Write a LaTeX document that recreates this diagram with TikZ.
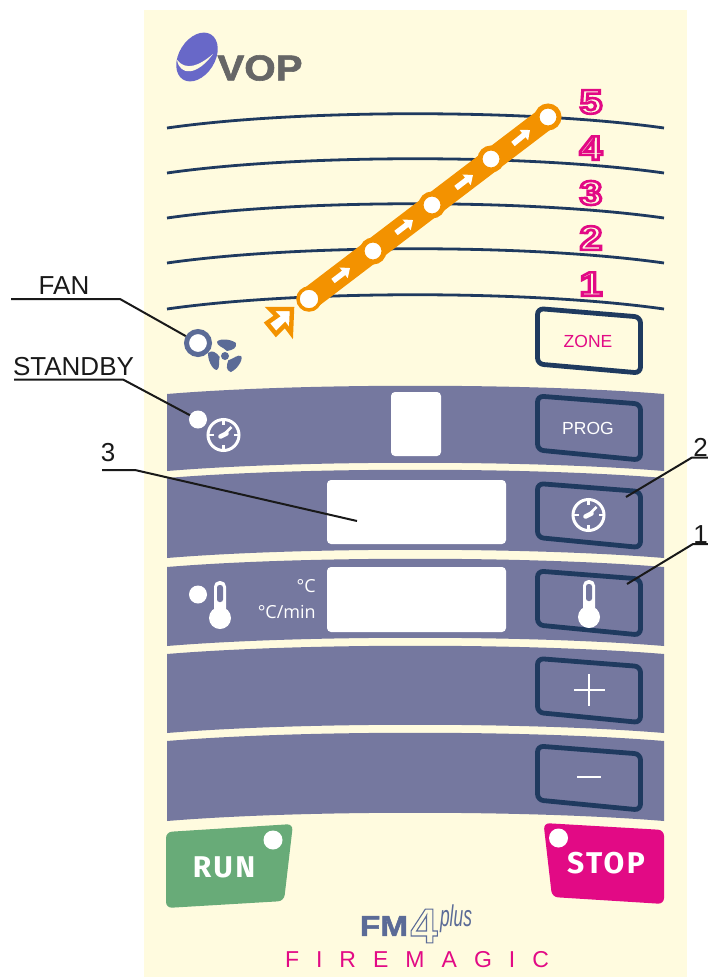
\documentclass[tikz,border=0pt]{standalone}
\usepackage{fontspec}
\setmainfont{Liberation Sans}
\newfontfamily\sidefont{Open Sans}
\newfontfamily\keyfont[LetterSpace=8]{Fira Sans}
\newfontfamily\brandfont[LetterSpace=74]{Liberation Sans}
\newfontfamily\heavyfont[FakeBold=1.6]{Liberation Sans Bold}
\usetikzlibrary{arrows.meta}
\definecolor{panelcol}{HTML}{FFFBDF}
\definecolor{bandcol}{HTML}{75789F}
\definecolor{keycol}{HTML}{1F3A5F}
\definecolor{orangecol}{HTML}{F39200}
\definecolor{pinkcol}{HTML}{E20A85}
\definecolor{greencol}{HTML}{68AB78}
\definecolor{fancol}{HTML}{5B6B97}
\definecolor{logocol}{HTML}{6868C8}
\definecolor{greycol}{HTML}{666666}
\newcommand{\pinkline}[1]{\textcolor{panelcol}{\special{pdf:code q 2 Tr 2.6 w 0.886 0.039 0.522 RG}#1\special{pdf:code Q}}}
\newcommand{\blueline}[1]{\textcolor{panelcol}{\special{pdf:code q 2 Tr 1.1 w 0.357 0.42 0.592 RG}#1\special{pdf:code Q}}}
\tikzset{
 scaleline/.style={draw=keycol,line width=2.8pt},
 band/.style={fill=bandcol},
 display/.style={fill=white,rounded corners=4pt},
 keyframe/.style={draw=keycol,line width=4.8pt,rounded corners=6pt},
 led/.style={circle,fill=white,inner sep=0pt,minimum size=18pt},
 stop5/.style={circle,fill=white,draw=orangecol,line width=5pt,inner sep=0pt,minimum size=22pt},
 stepdigit/.style={font=\fontsize{34}{34}\selectfont\bfseries,xscale=1.2,transform shape,inner sep=0pt},
 flowtip/.style={white,line width=5.5pt,-{Triangle[length=8pt,width=13pt]}},
 callout/.style={draw=black!90,line width=2pt},
 calltext/.style={font=\fontsize{26}{26}\selectfont,text=black!90,inner sep=0pt},
 keytext/.style={font=\fontsize{17.5}{18}\selectfont,inner sep=0pt},
 sidetext/.style={font=\sidefont\fontsize{18}{18}\selectfont,text=white,inner sep=0pt,anchor=east},
 bigkey/.style={font=\keyfont\fontsize{30}{30}\selectfont\bfseries,text=white,inner sep=0pt},
 clockicon/.pic={
  \draw[white,line width=3pt] (0,0) circle (15.5pt);
  \draw[white,line width=2.5pt] (0,-15) -- (0,-10);
  \draw[white,line width=2.5pt] (0,15) -- (0,10);
  \draw[white,line width=2.5pt] (-15,0) -- (-10,0);
  \draw[white,line width=2.5pt] (15,0) -- (10,0);
  \draw[white,line width=2.5pt] (-1,1) -- (8,-8);
  \draw[white,line width=4.5pt,line cap=round] (-3,1.5) -- (3,-1.5);
 },
 thermicon/.pic={
  \fill[white] (0,0) circle (11pt);
  \fill[white,rounded corners=5.5pt] (-6,0) rectangle (6,-37);
  \fill[bandcol,rounded corners=2.5pt] (-3,-16) rectangle (3,-33);
 },
 fanblade/.pic={
  \fill[fancol] (2,-5) .. controls (8,-6) and (12,-8) .. (11,-13) .. controls (6,-17) and (-6,-18) .. (-8,-14) .. controls (-8,-10) and (-2,-9) .. cycle;
 },
}
\begin{document}
\begin{tikzpicture}[x=1pt,y=-1pt]
 \useasboundingbox (0,0) rectangle (708,977);
 \fill[panelcol] (144,10) rectangle (687,977);

 \draw[scaleline] (167,128) .. controls (300,109) and (530,109) .. (664,128);
 \draw[scaleline] (167,173) .. controls (300,154) and (530,154) .. (664,173);
 \draw[scaleline] (167,218) .. controls (300,199) and (530,199) .. (664,218);
 \draw[scaleline] (167,263) .. controls (300,244) and (530,244) .. (664,263);
 \draw[scaleline] (167,309) .. controls (300,290) and (530,290) .. (664,309);

 \fill[band] (167,394) .. controls (300,383) and (530,383) .. (664,394) -- (664,471) .. controls (530,460) and (300,460) .. (167,471) -- cycle;
 \fill[band] (167,478) .. controls (300,467) and (530,467) .. (664,478) -- (664,558) .. controls (530,547) and (300,547) .. (167,558) -- cycle;
 \fill[band] (167,567) .. controls (300,556) and (530,556) .. (664,567) -- (664,646) .. controls (530,635) and (300,635) .. (167,646) -- cycle;
 \fill[band] (167,654) .. controls (300,643) and (530,643) .. (664,654) -- (664,733) .. controls (530,722) and (300,722) .. (167,733) -- cycle;
 \fill[band] (167,741) .. controls (300,730) and (530,730) .. (664,741) -- (664,821) .. controls (530,810) and (300,810) .. (167,821) -- cycle;

 \fill[display] (391,392) rectangle (441,456);
 \fill[display] (327,480) rectangle (506,544);
 \fill[display] (327,567) rectangle (506,632);

 \fill[logocol,rotate around={58:(197,57)}] (197,57) ellipse (26.5pt and 18pt);
 \fill[panelcol] (177,60) .. controls (180,76) and (197,76) .. (213,54) .. controls (199,66) and (186,71) .. cycle;
 \node[font=\heavyfont\fontsize{36}{36}\selectfont,text=greycol,xscale=1.12,transform shape,inner sep=0pt] (voplogo) at (260,68) {VOP};

 \draw[line width=23pt,orangecol] (309,299) -- (548,117);
 \node[stop5,line width=3.5pt,minimum size=22pt] (level1) at (309,299) {};
 \node[stop5] (level2) at (373,251) {};
 \node[stop5] (level3) at (432,205) {};
 \node[stop5] (level4) at (491,159) {};
 \node[stop5] (level5) at (548,117) {};
 \draw[flowtip] (333,281) -- (350,268);
 \draw[flowtip] (396,233) -- (413,220);
 \draw[flowtip] (456,188) -- (473,175);
 \draw[flowtip] (513,144) -- (530,130);
 \draw[fill=white,draw=orangecol,line width=4.4pt,miter limit=8] (292,309) -- (270,309) -- (277,316) -- (267,323) -- (276,334) -- (285,325) -- (291,333) -- cycle;

 \node[stepdigit] (digit5) at (591,102) {\pinkline{5}};
 \node[stepdigit] (digit4) at (591,148) {\pinkline{4}};
 \node[stepdigit] (digit3) at (591,193) {\pinkline{3}};
 \node[stepdigit] (digit2) at (591,238) {\pinkline{2}};
 \node[stepdigit] (digit1) at (591,284) {\pinkline{1}};

 \draw[keyframe] (537.5,308.5) -- (640.5,317) -- (640.5,373) -- (537.5,364) -- cycle;
 \draw[keyframe] (537.5,396) -- (640.5,404) -- (640.5,460) -- (537.5,450) -- cycle;
 \draw[keyframe] (537.5,483.5) -- (640.5,491.5) -- (640.5,547.5) -- (537.5,537.5) -- cycle;
 \draw[keyframe] (537.5,571) -- (640.5,579) -- (640.5,635) -- (537.5,625) -- cycle;
 \draw[keyframe] (537.5,658.5) -- (640.5,666.5) -- (640.5,722.5) -- (537.5,712.5) -- cycle;
 \draw[keyframe] (537.5,746) -- (640.5,754) -- (640.5,810) -- (537.5,800) -- cycle;

 \node[keytext,text=pinkcol] (zonekey) at (588,341) {ZONE};
 \node[keytext,text=white] (progkey) at (588,428) {PROG};
 \pic at (588.5,515) {clockicon};
 \pic at (589,617) {thermicon};
 \draw[white,line width=2.8pt] (574,690) -- (605,690);
 \draw[white,line width=2.8pt] (589,674) -- (589,706);
 \draw[white,line width=2.8pt] (577,777) -- (601,777);

 \node[led] (standbydot) at (198,419.5) {};
 \pic at (223.5,435) {clockicon};
 \node[led] (tempdot) at (198,594.5) {};
 \pic at (220,618) {thermicon};
 \node[sidetext] (unitc) at (316,586.5) {°C};
 \node[sidetext] (unitrate) at (316,612) {°C/min};

 \node[circle,fill=white,draw=fancol,line width=5pt,inner sep=0pt,minimum size=23pt] (fanring) at (198,343) {};
 \node[circle,fill=fancol,inner sep=0pt,minimum size=8pt] (fanhub) at (225,356) {};
 \pic at (225,356) {fanblade};
 \pic[rotate=120] at (225,356) {fanblade};
 \pic[rotate=240] at (225,356) {fanblade};

 \fill[greencol,rounded corners=6pt] (166,832) -- (293,824) -- (284,901) -- (166,908) -- cycle;
 \fill[pinkcol,rounded corners=6pt] (543.5,823) -- (664,830) -- (664,904) -- (552,897) -- cycle;
 \node[bigkey] (runkey) at (224,867) {RUN};
 \node[bigkey] (stopkey) at (606,863) {STOP};
 \node[led,minimum size=19pt] (rundot) at (273,840) {};
 \node[led,minimum size=19pt] (stopdot) at (558.5,838) {};

 \node[font=\heavyfont\fontsize{29}{29}\selectfont,text=fancol,xscale=1.15,transform shape,inner sep=0pt] (fmlogo) at (384,926) {FM};
 \node[font=\fontsize{49}{49}\selectfont\bfseries,inner sep=0pt] (fourlogo) at (424,926) {\blueline{4}};
 \node[font=\fontsize{30}{30}\selectfont\itshape,text=fancol,xscale=0.58,transform shape,inner sep=0pt] (pluslogo) at (456,919) {plus};
 \node[font=\brandfont\fontsize{23}{23}\selectfont,text=pinkcol,inner sep=0pt] (brand) at (417,960) {FIREMAGIC};

 \node[calltext] (fantext) at (64,286) {FAN};
 \coordinate (fana) at (11,299);
 \coordinate (fanb) at (120,299);
 \draw[callout] (fana) -- (fanb) -- (fanring);
 \node[calltext] (standbytext) at (73.5,367) {STANDBY};
 \coordinate (standbya) at (14,379.5);
 \coordinate (standbyb) at (123,379.5);
 \draw[callout] (standbya) -- (standbyb) -- (standbydot);
 \node[calltext] (threetext) at (108,453) {3};
 \coordinate (threea) at (102,470);
 \coordinate (threeb) at (135,470);
 \coordinate (threec) at (357,521);
 \draw[callout] (threea) -- (threeb) -- (threec);
 \node[calltext] (twotext) at (700.5,447) {2};
 \coordinate (twoa) at (708,457.5);
 \coordinate (twob) at (692,457.5);
 \coordinate (twoc) at (626,497);
 \draw[callout] (twoa) -- (twob) -- (twoc);
 \node[calltext] (onetext) at (700.5,535) {1};
 \coordinate (onea) at (708,544);
 \coordinate (oneb) at (693,544);
 \coordinate (onec) at (627,584);
 \draw[callout] (onea) -- (oneb) -- (onec);
\end{tikzpicture}
\end{document}
